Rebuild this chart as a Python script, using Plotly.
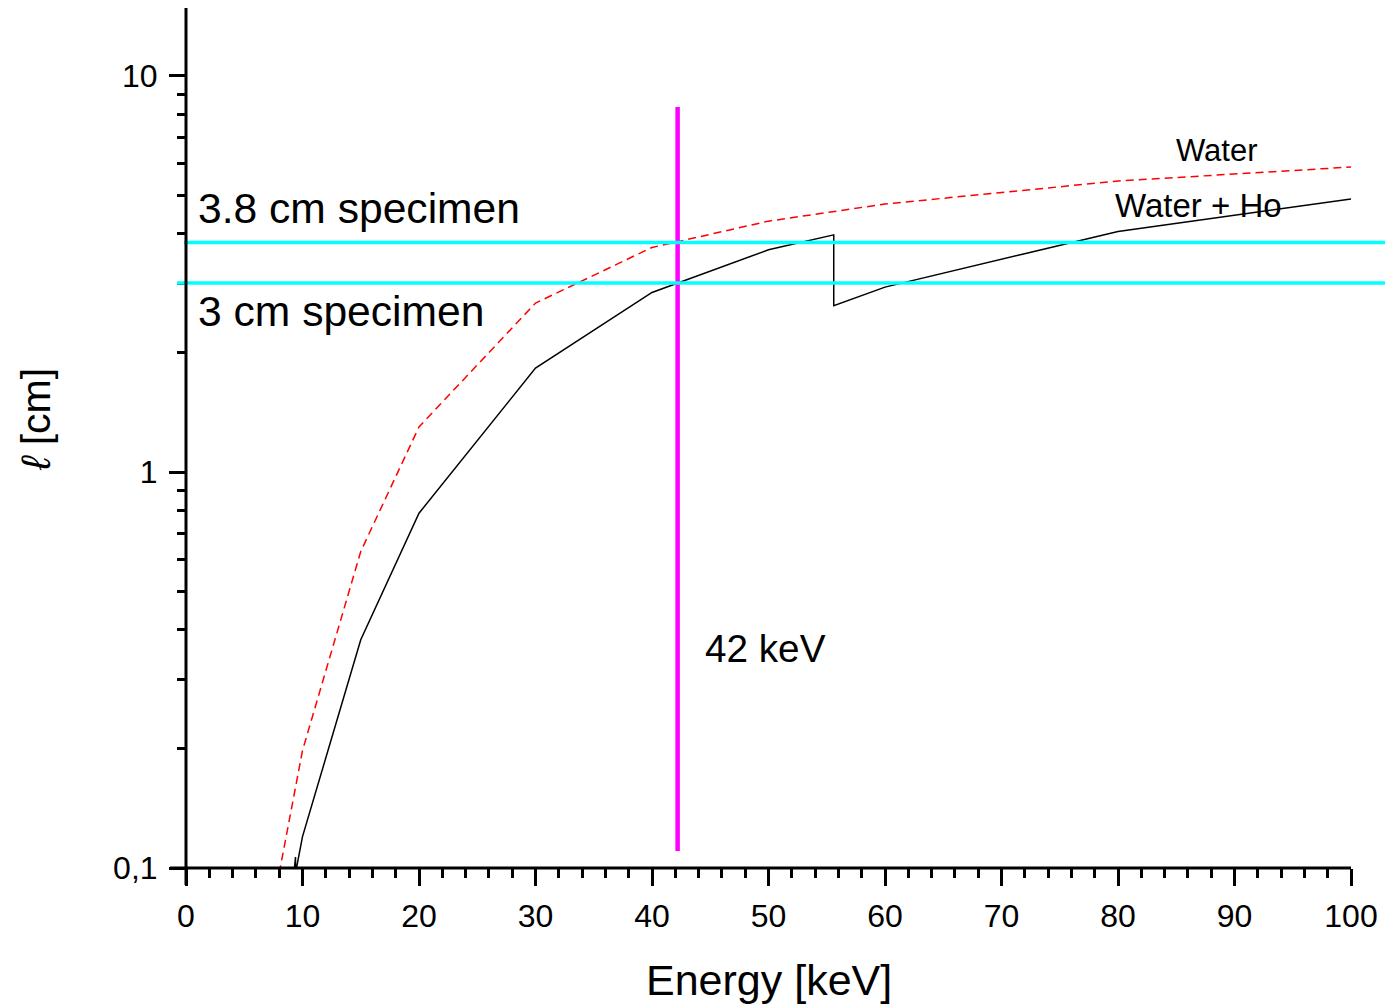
import numpy as np
import plotly.graph_objects as go

# ---------------- data ----------------
energy_water = [8.0, 10, 15, 20, 30, 40, 50, 60, 80, 100]
ell_water = [0.097, 0.198, 0.63, 1.30, 2.67, 3.69, 4.30, 4.75, 5.43, 5.89]

energy_ho = [9.0, 9.40, 9.40, 10, 15, 20, 30, 40, 50, 55.6, 55.6, 60, 80, 100]
ell_ho = [0.080, 0.1066, 0.097, 0.120, 0.377, 0.787, 1.83, 2.84, 3.64, 3.97, 2.63, 2.93, 4.05, 4.89]

specimen_thickness = [3.8, 3.0]
specimen_labels = ["3.8 cm specimen", "3 cm specimen"]
selected_energy = 42.2
selected_span = [0.1104, 8.35]
selected_label = "42 keV"

x_ticks = list(range(0, 101, 10))
x_minor = [v for v in range(2, 100, 2) if v % 10 != 0]
y_ticks = [0.1, 1, 10]
y_ticktext = ["0,1", "1", "10"]
y_minor = [0.2, 0.3, 0.4, 0.5, 0.6, 0.7, 0.8, 0.9, 2, 3, 4, 5, 6, 7, 8, 9]

# ---------------- geometry ----------------
W, H = 1385, 1007
ML, MR, MT, MB = 186, 34, 8, 139
PW, PH = W - ML - MR, H - MT - MB
Y_RANGE = [-1.0, 1.1717]
X_RANGE = [0, 100]
FONT = "Liberation Sans, Arial, sans-serif"


def px_x(p):
    return (p - ML) / PW


def px_y(p):
    return (H - MB - p) / PH


def val_y(v):
    return (np.log10(v) - Y_RANGE[0]) / (Y_RANGE[1] - Y_RANGE[0])


fig = go.Figure()

fig.add_trace(go.Scatter(
    x=energy_water, y=ell_water, mode="lines",
    line=dict(color="#ff0000", width=1.5, dash="8px,5px"),
    name="Water", hoverinfo="skip"))
fig.add_trace(go.Scatter(
    x=energy_ho, y=ell_ho, mode="lines",
    line=dict(color="#000000", width=1.5),
    name="Water + Ho", hoverinfo="skip"))
fig.add_trace(go.Scatter(
    x=[selected_energy, selected_energy], y=selected_span, mode="lines",
    line=dict(color="#ff00ff", width=4.5),
    name=selected_label, hoverinfo="skip"))

shapes = []
# specimen thickness lines (extend beyond the frame as in the reference)
for t, x0 in zip(specimen_thickness, [px_x(184), px_x(177)]):
    shapes.append(dict(type="line", xref="paper", yref="paper",
                       x0=x0, x1=px_x(1385), y0=val_y(t), y1=val_y(t),
                       line=dict(color="#00ffff", width=3.5), layer="above"))
# axis lines overshooting at the corner
shapes.append(dict(type="line", xref="paper", yref="paper",
                   x0=px_x(170), x1=1, y0=0, y1=0,
                   line=dict(color="black", width=3), layer="above"))
shapes.append(dict(type="line", xref="paper", yref="paper",
                   x0=0, x1=0, y0=px_y(885), y1=1,
                   line=dict(color="black", width=3), layer="above"))

annotations = [
    dict(text=specimen_labels[0], xref="paper", yref="paper",
         x=px_x(196), y=px_y(208), xanchor="left", yanchor="middle",
         showarrow=False, font=dict(size=42.6, color="black", family=FONT)),
    dict(text=specimen_labels[1], xref="paper", yref="paper",
         x=px_x(196), y=px_y(311), xanchor="left", yanchor="middle",
         showarrow=False, font=dict(size=42.6, color="black", family=FONT)),
    dict(text=selected_label, xref="paper", yref="paper",
         x=px_x(703), y=px_y(648), xanchor="left", yanchor="middle",
         showarrow=False, font=dict(size=38.7, color="black", family=FONT)),
    dict(text="Water", xref="paper", yref="paper",
         x=px_x(1217), y=px_y(150), xanchor="center", yanchor="middle",
         showarrow=False, font=dict(size=31, color="black", family=FONT)),
    dict(text="Water + Ho", xref="paper", yref="paper",
         x=px_x(1113), y=px_y(205), xanchor="left", yanchor="middle",
         showarrow=False, font=dict(size=33, color="black", family=FONT)),
    # axis titles
    dict(text="Energy [keV]", xref="paper", yref="paper",
         x=px_x(769), y=px_y(980), xanchor="center", yanchor="middle",
         showarrow=False, font=dict(size=43, color="black", family=FONT)),
    dict(text="<i>ℓ</i> [cm]", xref="paper", yref="paper",
         x=px_x(36), y=px_y(420), xanchor="center", yanchor="middle",
         textangle=-90, showarrow=False,
         font=dict(size=41, color="black", family=FONT)),
]

fig.update_layout(
    width=W, height=H,
    margin=dict(l=ML, r=MR, t=MT, b=MB, pad=0),
    paper_bgcolor="white", plot_bgcolor="white",
    showlegend=False,
    font=dict(family=FONT, color="black"),
    shapes=shapes, annotations=annotations,
    xaxis=dict(
        range=X_RANGE, showgrid=False, zeroline=False, showline=False,
        tickmode="array", tickvals=x_ticks,
        ticks="outside", ticklen=17, tickwidth=3, tickcolor="black",
        tickfont=dict(size=32, family=FONT, color="black"),
        ticklabelstandoff=3,
        minor=dict(tickmode="array", tickvals=x_minor, ticks="outside",
                   ticklen=9, tickwidth=3, tickcolor="black", showgrid=False),
    ),
    yaxis=dict(
        type="log", range=Y_RANGE, showgrid=False, zeroline=False, showline=False,
        tickmode="array", tickvals=y_ticks, ticktext=y_ticktext,
        ticks="outside", ticklen=16, tickwidth=3, tickcolor="black",
        tickfont=dict(size=32, family=FONT, color="black"),
        ticklabelstandoff=5,
        minor=dict(tickmode="array", tickvals=y_minor, ticks="outside",
                   ticklen=8, tickwidth=3, tickcolor="black", showgrid=False),
    ),
)

fig.write_html(
    "out.html",
    config={"displayModeBar": False},
    post_script="document.body.style.margin='0';document.body.style.overflow='hidden';",
)
